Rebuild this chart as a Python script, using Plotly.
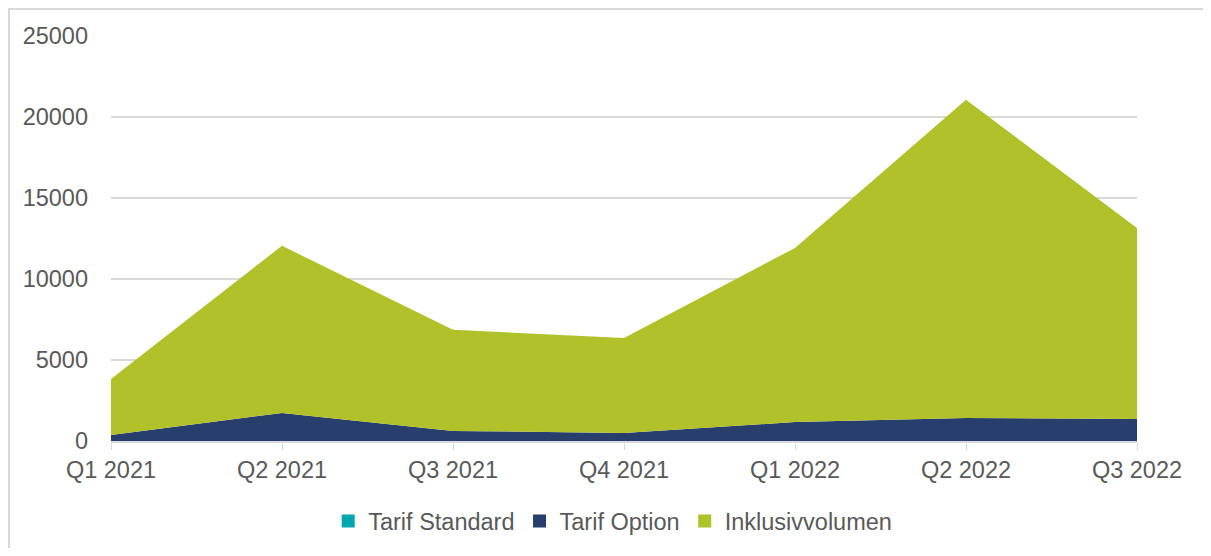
import plotly.graph_objects as go

quarters = ['Q1 2021', 'Q2 2021', 'Q3 2021', 'Q4 2021', 'Q1 2022', 'Q2 2022', 'Q3 2022']
tarif_standard = [0, 0, 0, 0, 0, 0, 0]
tarif_option = [370, 1730, 620, 500, 1170, 1420, 1360]
inklusivvolumen = [3460, 10320, 6240, 5860, 10750, 19650, 11790]

series = [
    ('Tarif Standard', tarif_standard, '#00a6b0'),
    ('Tarif Option', tarif_option, '#283f6e'),
    ('Inklusivvolumen', inklusivvolumen, '#b1c129'),
]

fig = go.Figure()
for name, values, color in series:
    fig.add_trace(go.Scatter(
        x=quarters,
        y=values,
        name=name,
        mode='lines',
        stackgroup='one',
        line=dict(width=0, color=color),
        fillcolor=color,
        showlegend=False,
        legendgroup=name,
    ))

# square legend keys, like the original
for name, values, color in series:
    fig.add_trace(go.Scatter(
        x=[None], y=[None],
        name=name,
        mode='markers',
        marker=dict(symbol='square', size=13, color=color),
        legendgroup=name,
    ))

# page has an 8px body margin, so the figure is a bit smaller than the window
fig.update_layout(
    width=1195,
    height=540,
    margin=dict(l=103, r=66, t=28, b=107, autoexpand=False),
    paper_bgcolor='white',
    plot_bgcolor='white',
    font=dict(family='Liberation Sans, Arial', size=23.5, color='#595959'),
    showlegend=True,
    legend=dict(
        orientation='h',
        traceorder='normal',
        xanchor='center',
        x=0.489,
        yanchor='middle',
        y=-0.198,
        font=dict(size=23.5, color='#595959'),
        itemwidth=30,
    ),
    shapes=[dict(
        type='rect', xref='paper', yref='paper',
        x0=-0.0994, x1=1.2, y0=-0.5, y1=1.0667,
        line=dict(color='#d9d9d9', width=2),
        fillcolor='rgba(0,0,0,0)', layer='below',
    )],
)

fig.update_xaxes(
    type='category',
    range=[0, 6],
    showgrid=False,
    showline=True,
    linecolor='#d9d9d9',
    linewidth=1.5,
    ticks='outside',
    ticklen=7,
    tickcolor='#d9d9d9',
    ticklabelstandoff=0,
)
fig.update_yaxes(
    range=[0, 25000],
    tickvals=[0, 5000, 10000, 15000, 20000, 25000],
    ticktext=['0', '5000', '10000', '15000', '20000', '25000'],
    showgrid=True,
    gridcolor='#d9d9d9',
    gridwidth=1.5,
    zeroline=False,
    showline=False,
    ticklabelstandoff=22,
)

fig.write_html('out.html')
